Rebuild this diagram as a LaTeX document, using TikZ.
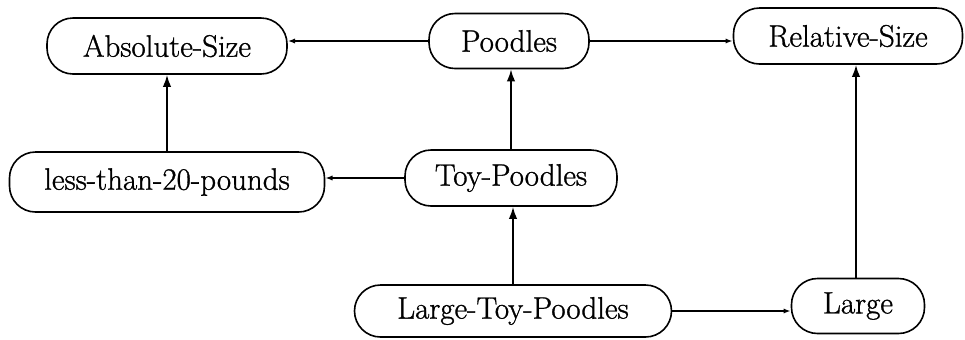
\documentclass[tikz,border=0pt]{standalone}
\usepackage{fontspec}
\newfontfamily\conceptfont[FakeBold=1]{Latin Modern Roman}
\usetikzlibrary{arrows.meta}
\begin{document}
\begin{tikzpicture}[x=0.5pt,y=-0.5pt,
  concept/.style={draw, line width=0.8pt, rounded corners=13pt, inner sep=0pt,
    font=\conceptfont\fontsize{15.5}{18}\selectfont},
  arr/.style={line width=0.9pt, -{Latex[length=6pt,width=4.2pt]}},
  harr/.style={line width=0.8pt, -{Latex[length=3.6pt,width=2.6pt]}}]
  \useasboundingbox (0,0) rectangle (965,339);
  % concept nodes
  \node[concept, minimum width=120pt, minimum height=28pt]   (abs)   at (167,46)  {Absolute-Size};
  \node[concept, minimum width=80pt,  minimum height=27.5pt] (pood)  at (509,41)  {Poodles};
  \node[concept, minimum width=114.5pt, minimum height=28pt] (rel)   at (848,36)  {Relative-Size};
  \node[concept, minimum width=157.5pt, minimum height=30pt] (less)  at (167,182) {less-than-20-pounds};
  \node[concept, minimum width=106pt, minimum height=28pt]   (toy)   at (511,178) {Toy-Poodles};
  \node[concept, minimum width=158.5pt, minimum height=26pt] (ltp)   at (513,311) {Large-Toy-Poodles};
  \node[concept, minimum width=66.5pt, minimum height=27.5pt] (large) at (858,306) {Large};
  % links
  \draw[harr] (pood.west) -- (pood.west -| abs.east);
  \draw[harr] (pood.east) -- (pood.east -| rel.west);
  \draw[arr] (less.north) -- (less.north |- abs.south);
  \draw[arr] (toy.north) -- (toy.north |- pood.south);
  \draw[harr] (toy.west) -- (toy.west -| less.east);
  \draw[arr] (ltp.north) -- (ltp.north |- toy.south);
  \draw[harr] (ltp.east) -- (ltp.east -| large.west);
  \draw[arr] (large.north -| 856,0) -- (rel.south -| 856,0);
\end{tikzpicture}
\end{document}
